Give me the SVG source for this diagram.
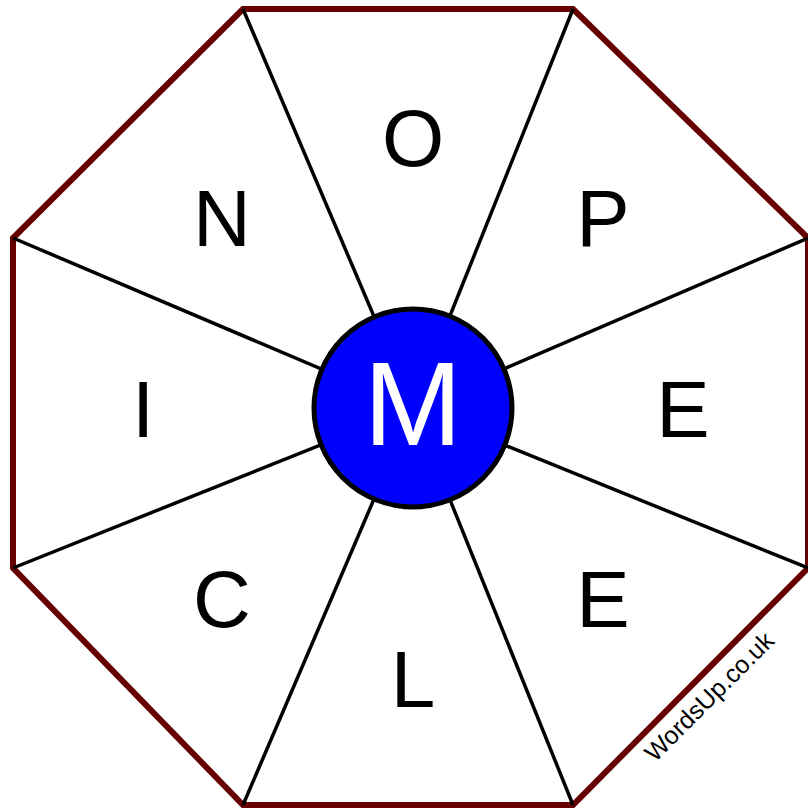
<svg xmlns="http://www.w3.org/2000/svg" width="808" height="809" viewBox="0 0 808 809">
<style>
.spoke{stroke:#000;stroke-width:3.5;fill:none}
.let{font-family:"Liberation Sans",Arial,sans-serif;font-size:80px;fill:#000;text-anchor:middle}
</style>
<rect width="808" height="809" fill="#fff"/>
<g id="octagon">
<polygon points="243,9 573,9 808,238 808,568 573,805 243,805 13,568 13,238" fill="#fff" stroke="#660000" stroke-width="6"/>
</g>
<g id="connectors">
<line class="spoke" x1="413" y1="408" x2="243" y2="9"/>
<line class="spoke" x1="413" y1="408" x2="573" y2="9"/>
<line class="spoke" x1="413" y1="408" x2="808" y2="238"/>
<line class="spoke" x1="413" y1="408" x2="808" y2="568"/>
<line class="spoke" x1="413" y1="408" x2="573" y2="805"/>
<line class="spoke" x1="413" y1="408" x2="243" y2="805"/>
<line class="spoke" x1="413" y1="408" x2="13" y2="568"/>
<line class="spoke" x1="413" y1="408" x2="13" y2="238"/>
</g>
<g id="n-O"><text class="let" x="413" y="166">O</text></g>
<g id="n-P"><text class="let" x="603" y="246">P</text></g>
<g id="n-E1"><text class="let" x="683" y="437">E</text></g>
<g id="n-E2"><text class="let" x="603" y="627">E</text></g>
<g id="n-L"><text class="let" x="413" y="707">L</text></g>
<g id="n-C"><text class="let" x="222" y="627">C</text></g>
<g id="n-I"><text class="let" x="143" y="437">I</text></g>
<g id="n-N"><text class="let" x="222" y="246">N</text></g>
<g id="center">
<circle cx="413" cy="408" r="99" fill="#0000ff" stroke="#000" stroke-width="5"/>
<text x="413" y="445" font-family="'Liberation Sans',Arial,sans-serif" font-size="118" fill="#fff" text-anchor="middle">M</text>
</g>
<g id="watermark">
<text transform="translate(655,763) rotate(-45)" font-family="'Liberation Sans',Arial,sans-serif" font-size="25" fill="#000">WordsUp.co.uk</text>
</g>
</svg>
